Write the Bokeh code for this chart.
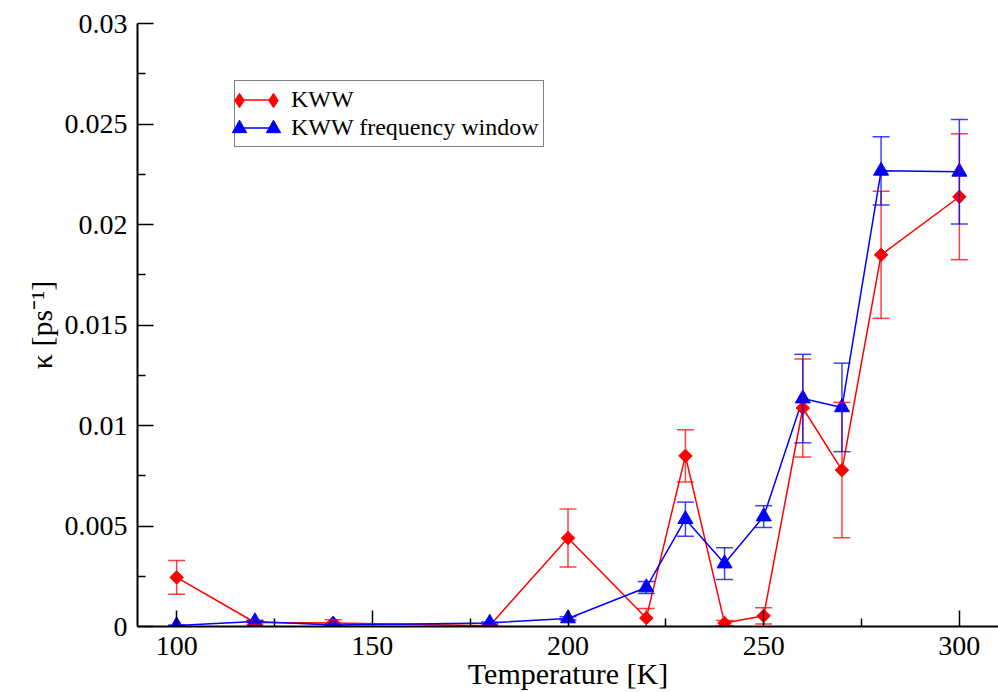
import math

from bokeh.core.properties import value
from bokeh.embed import file_html
from bokeh.models import (ColumnDataSource, CustomJSTickFormatter, FixedTicker,
                          Legend, LegendItem, Range1d, TeeHead, Whisker)
from bokeh.plotting import figure
from bokeh.resources import INLINE

# Relaxation rate kappa versus temperature, two fitting approaches
temperature = [100, 120, 140, 180, 200, 220, 230, 240, 250, 260, 270, 280, 300]

kww = [0.00244, 0.00020, 0.00018, 0.00004, 0.00440, 0.00042, 0.00849,
       0.00017, 0.00053, 0.01087, 0.00778, 0.01849, 0.02138]
kww_err = [0.00084, 0.00010, 0.00015, 0.00004, 0.00144, 0.00048, 0.00130,
           0.00013, 0.00040, 0.00244, 0.00337, 0.00316, 0.00313]

kww_fw = [0.00005, 0.00025, 0.00008, 0.00018, 0.00040, 0.00194, 0.00534,
          0.00313, 0.00547, 0.01134, 0.01090, 0.02267, 0.02262]
kww_fw_err = [0.00003, 0.00005, 0.00003, 0.00005, 0.00008, 0.00030, 0.00085,
              0.00079, 0.00054, 0.00220, 0.00220, 0.00170, 0.00260]

x_ticks = [100, 150, 200, 250, 300]
x_minor_ticks = [125, 175, 225, 275]
y_ticks = [0, 0.005, 0.01, 0.015, 0.02, 0.025, 0.03]
y_minor_ticks = [0.0025, 0.0075, 0.0125, 0.0175, 0.0225, 0.0275]

FONT = "Liberation Serif"
RED = "#ff0000"
BLUE = "#0000ff"

p = figure(width=998, height=692, x_range=Range1d(90, 310), y_range=Range1d(0, 0.03),
           output_backend="svg", toolbar_location=None,
           min_border_left=137, min_border_right=0, min_border_top=23, min_border_bottom=66)
p.outline_line_color = None
p.xgrid.visible = False
p.ygrid.visible = False

for ax in (p.xaxis[0], p.yaxis[0]):
    ax.axis_line_width = 2
    ax.axis_line_color = "black"
    ax.major_tick_in = 16
    ax.major_tick_out = 0
    ax.minor_tick_in = 8
    ax.minor_tick_out = 0
    ax.major_tick_line_width = 1.5
    ax.minor_tick_line_width = 1.5
    ax.major_label_text_font = FONT
    ax.major_label_text_font_size = "28px"
    ax.major_label_text_color = "black"
    ax.axis_label_text_font = FONT
    ax.axis_label_text_font_size = "30px"
    ax.axis_label_text_font_style = "normal"
    ax.axis_label_text_color = "black"

p.xaxis.ticker = FixedTicker(ticks=x_ticks, minor_ticks=x_minor_ticks)
p.yaxis.ticker = FixedTicker(ticks=y_ticks, minor_ticks=y_minor_ticks)
p.yaxis.formatter = CustomJSTickFormatter(
    code="return tick.toFixed(3).replace(/0+$/, '').replace(/\\.$/, '');")

p.xaxis.axis_label = "Temperature [K]"
p.xaxis.major_label_standoff = 10
p.xaxis.axis_label_standoff = -1
p.yaxis.axis_label = "κ [ps⁻¹]"
p.yaxis.major_label_standoff = 10
p.yaxis.axis_label_standoff = 4


def add_series(y, err, color):
    src = ColumnDataSource(dict(
        x=temperature, y=y,
        lower=[v - e for v, e in zip(y, err)],
        upper=[v + e for v, e in zip(y, err)],
    ))
    line = p.line("x", "y", source=src, line_color=color, line_width=1.5)
    p.add_layout(Whisker(
        source=src, base="x", upper="upper", lower="lower",
        line_color=color, line_width=1.5, line_alpha=0.75, level="glyph",
        upper_head=TeeHead(size=17, line_color=color, line_width=1.5, line_alpha=0.75),
        lower_head=TeeHead(size=17, line_color=color, line_width=1.5, line_alpha=0.75),
    ))
    return src, line


red_src, red_line = add_series(kww, kww_err, RED)
blue_src, blue_line = add_series(kww_fw, kww_fw_err, BLUE)

# small diamonds under the red markers; they give the legend its diamond symbol
red_key = p.scatter("x", "y", source=red_src, marker="diamond", size=5,
                    fill_color=RED, line_color=RED)
p.scatter("x", "y", source=red_src, marker="square", size=9.5, angle=math.pi / 4,
          fill_color=RED, line_color=RED, line_width=1)
blue_key = p.scatter("x", "y", source=blue_src, marker="triangle", size=15,
                     fill_color=BLUE, line_color=BLUE, line_width=1)

label_style = dict(label_text_font=FONT, label_text_font_size="24px", label_text_color="black")

# framed legend carrying the connecting lines and texts
main_legend = Legend(
    items=[LegendItem(label=value("KWW"), renderers=[red_line]),
           LegendItem(label=value("KWW frequency window"), renderers=[blue_line])],
    location=(97, 479), margin=0, padding=5, spacing=1,
    glyph_height=27, label_height=27, glyph_width=34, label_standoff=17,
    border_line_color="black", border_line_width=1.5, background_fill_color="white",
    background_fill_alpha=1, **label_style)
p.add_layout(main_legend, "center")

# symbols at both ends of each legend line
for key, yb in ((red_key, 508), (blue_key, 480)):
    for xb in (84, 118):
        mark = Legend(
            items=[LegendItem(label=value(" "), renderers=[key])],
            location=(xb, yb), margin=0, padding=0, spacing=0,
            glyph_height=36, label_height=27, glyph_width=36, label_standoff=0,
            border_line_alpha=0, background_fill_alpha=0, **label_style)
        p.add_layout(mark, "center")

open("out.html", "w").write(file_html(p, INLINE))
